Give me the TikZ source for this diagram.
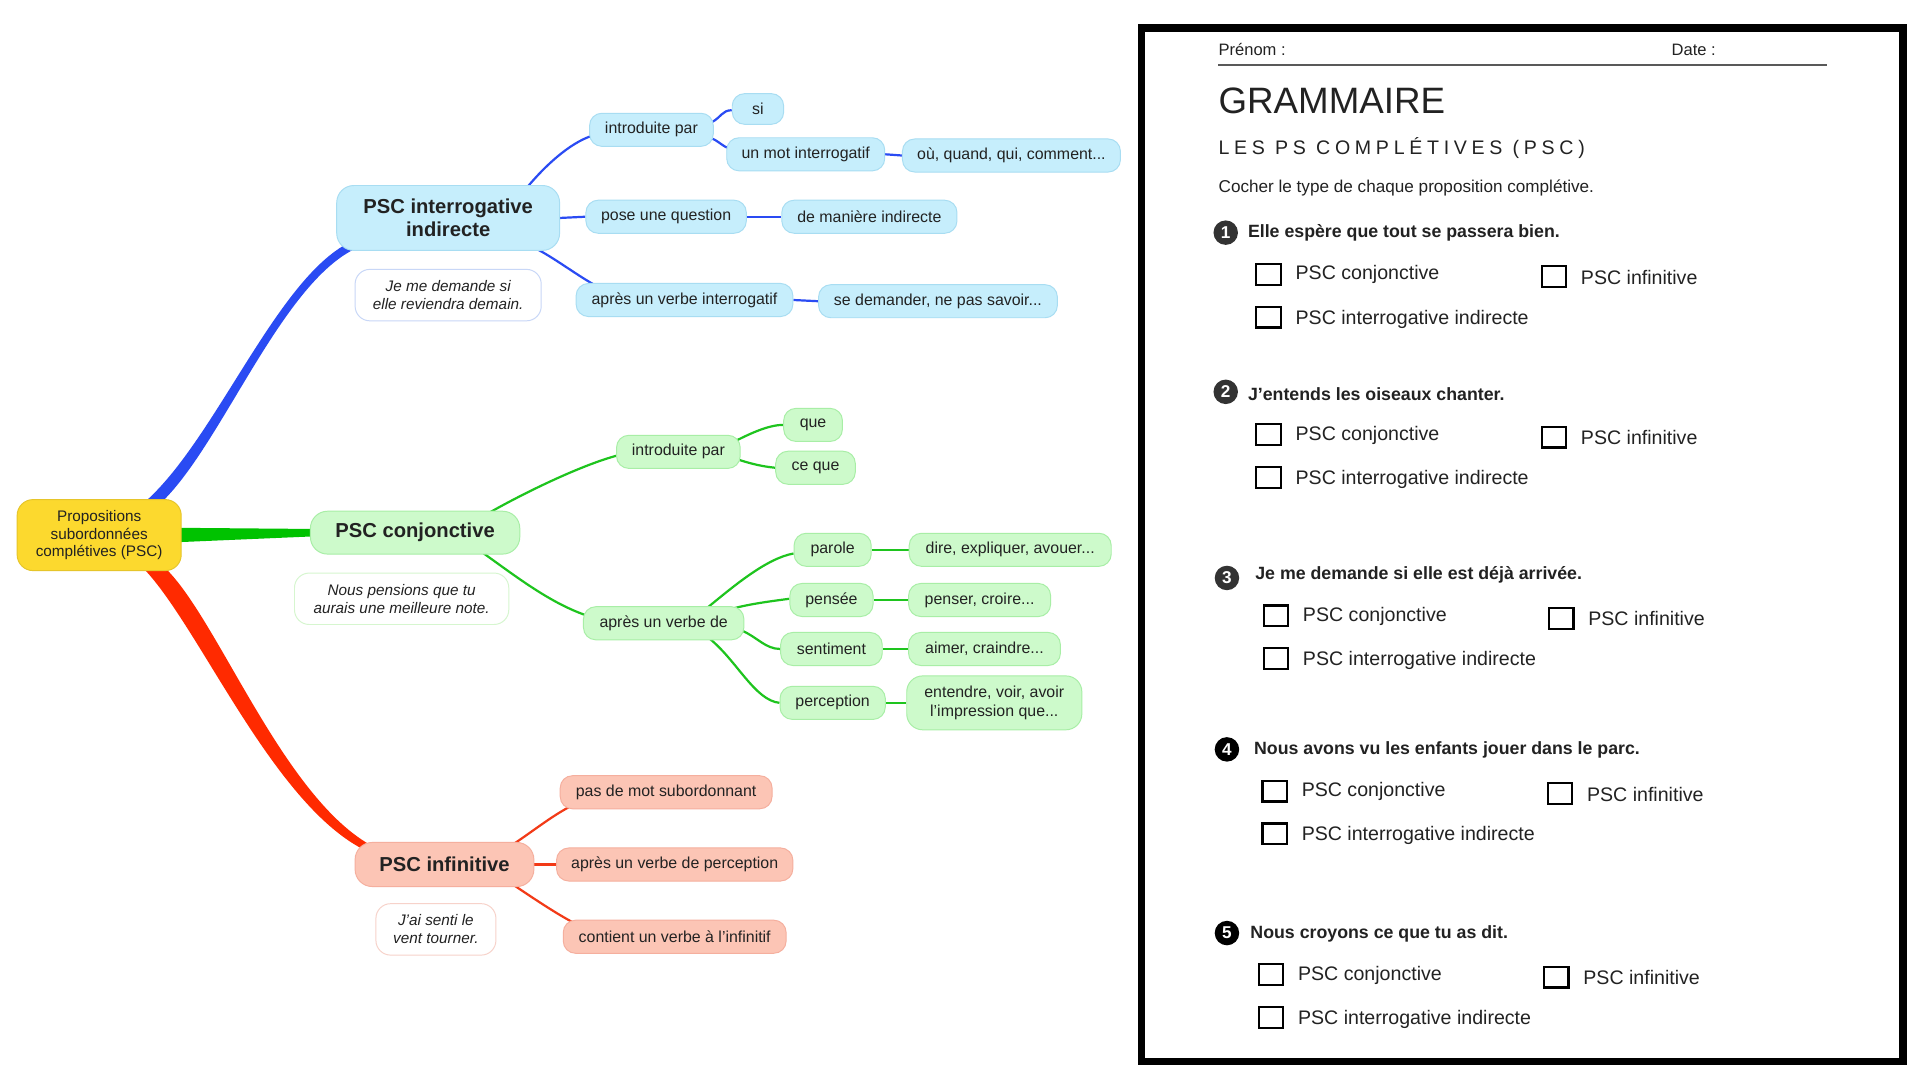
\documentclass[tikz,border=0pt]{standalone}
\usepackage{fontspec}
\setmainfont{Liberation Sans}
\setsansfont{Liberation Sans}
\newfontfamily\spacedfont[LetterSpace=24]{Liberation Sans}
\usetikzlibrary{calc}
\definecolor{txt}{HTML}{222222}
\definecolor{bfill}{HTML}{C6EEFC}
\definecolor{bdraw}{HTML}{A8DDF2}
\definecolor{bline}{HTML}{2A4BF3}
\definecolor{gfill}{HTML}{CDFACB}
\definecolor{gdraw}{HTML}{A8EEA6}
\definecolor{gline}{HTML}{1EC41E}
\definecolor{gthick}{HTML}{00C200}
\definecolor{rfill}{HTML}{FCC5B5}
\definecolor{rdraw}{HTML}{F5AF9E}
\definecolor{rline}{HTML}{F23A17}
\definecolor{rthick}{HTML}{FF2A00}
\definecolor{yfill}{HTML}{FCD92E}
\definecolor{ydraw}{HTML}{E6C52A}
\definecolor{nbd}{HTML}{C8D7F7}
\definecolor{ngd}{HTML}{D6F6CF}
\definecolor{nrd}{HTML}{F7D2CA}
\definecolor{dgray}{HTML}{333333}
\pgfdeclarelayer{bg}
\pgfsetlayers{bg,main}
\tikzset{
  mm/.style={rectangle, rounded corners=10pt, draw, line width=0.8pt, minimum height=27pt,
    inner sep=2pt, font=\fontsize{13}{15}\selectfont, text=txt, align=center},
  bbox/.style={mm, fill=bfill, draw=bdraw},
  gbox/.style={mm, fill=gfill, draw=gdraw},
  rbox/.style={mm, fill=rfill, draw=rdraw},
  mainbox/.style={font=\bfseries\fontsize{16.5}{19}\selectfont, rounded corners=14pt},
  notebox/.style={rectangle, rounded corners=12pt, draw, fill=white, line width=0.8pt,
    minimum height=42pt, inner sep=2pt, text=txt,
    font=\itshape\fontsize{12.5}{14.5}\selectfont, align=center},
  yroot/.style={rectangle, rounded corners=13pt, fill=yfill, draw=ydraw, line width=0.8pt,
    minimum width=134pt, minimum height=58pt, inner sep=2pt, text=txt, align=center,
    font=\fontsize{12.5}{14.5}\selectfont},
  bl/.style={draw=bline, line width=1.8pt},
  gl/.style={draw=gline, line width=1.8pt},
  rl/.style={draw=rline, line width=1.8pt},
  cbox/.style={draw=black, line width=1.8pt, minimum width=20pt, minimum height=17pt, inner sep=0pt},
  cblbl/.style={anchor=west, inner sep=0pt, yshift=-1.5pt, font=\fontsize{16}{18}\selectfont, text=txt},
  qtxt/.style={anchor=west, inner sep=0pt, yshift=-1.5pt, font=\bfseries\fontsize{14.5}{17}\selectfont, text=txt},
  qnum/.style={circle, inner sep=0pt, minimum size=20pt, text=white, font=\bfseries\fontsize{14}{15}\selectfont},
  hdr/.style={anchor=west, inner sep=0pt, yshift=-1.5pt, text=txt}
}
% #1 id, #2 circle colour, #3 cx, #4 cy, #5 tx, #6 ty, #7 number, #8 sentence
\newcommand\psqblock[8]{%
  \node[qnum, fill=#2] (q#1num) at (#3,#4) {#7};
  \node[qtxt] (q#1txt) at (#5,#6) {#8};
  \node[cbox] (q#1b1) at ($(#5,#6)+(17,35)$) {};
  \node[cblbl] (q#1l1) at ($(q#1b1.east)+(11,-1)$) {PSC conjonctive};
  \node[cbox] (q#1b2) at ($(#5,#6)+(250,37)$) {};
  \node[cblbl] (q#1l2) at ($(q#1b2.east)+(11,-1)$) {PSC infinitive};
  \node[cbox] (q#1b3) at ($(#5,#6)+(17,70)$) {};
  \node[cblbl] (q#1l3) at ($(q#1b3.east)+(11,0)$) {PSC interrogative indirecte};
}
\begin{document}
\begin{tikzpicture}[x=1pt,y=-1pt]
\useasboundingbox (0,0) rectangle (1568,882);

% ---------------- mind map nodes ----------------
\node[yroot] (root) at (81,437) {Propositions\\subordonnées\\complétives (PSC)};

\node[bbox, mainbox, minimum width=182pt, minimum height=53pt] (inter) at (366,178) {PSC interrogative\\indirecte};
\node[notebox, draw=nbd, minimum width=152pt] (inote) at (366,241) {Je me demande si\\elle reviendra demain.};
\node[bbox, minimum width=101pt] (intro1) at (532,106) {introduite par};
\node[bbox, minimum width=42pt, minimum height=25pt] (si) at (619,89) {si};
\node[bbox, minimum width=129pt] (mot) at (658,126) {un mot interrogatif};
\node[bbox, minimum width=178pt] (ou) at (826,127) {où, quand, qui, comment...};
\node[bbox, minimum width=131pt] (pose) at (544,177) {pose une question};
\node[bbox, minimum width=143pt] (maniere) at (710,177) {de manière indirecte};
\node[bbox, minimum width=177pt] (apres1) at (559,245) {après un verbe interrogatif};
\node[bbox, minimum width=195pt] (sedem) at (766,246) {se demander, ne pas savoir...};

\node[gbox, mainbox, minimum width=171pt, minimum height=35pt] (conj) at (339,435) {PSC conjonctive};
\node[notebox, draw=ngd, minimum width=175pt] (cnote) at (328,489) {Nous pensions que tu\\aurais une meilleure note.};
\node[gbox, minimum width=101pt] (intro2) at (554,369) {introduite par};
\node[gbox, minimum width=48pt] (que) at (664,347) {que};
\node[gbox, minimum width=65pt] (ceque) at (666,382) {ce que};
\node[gbox, minimum width=131pt] (apres2) at (542,509) {après un verbe de};
\node[gbox, minimum width=63pt] (parole) at (680,449) {parole};
\node[gbox, minimum width=165pt] (dire) at (825,449) {dire, expliquer, avouer...};
\node[gbox, minimum width=68pt] (pensee) at (679,490) {pensée};
\node[gbox, minimum width=116pt] (penser) at (800,490) {penser, croire...};
\node[gbox, minimum width=83pt] (sentiment) at (679,530) {sentiment};
\node[gbox, minimum width=124pt] (aimer) at (804,530) {aimer, craindre...};
\node[gbox, minimum width=86pt] (perception) at (680,574) {perception};
\node[gbox, minimum width=143pt, minimum height=44pt, rounded corners=13pt] (entendre) at (812,574) {entendre, voir, avoir\\l'impression que...};

\node[rbox, mainbox, minimum width=146pt, minimum height=36pt] (inf) at (363,706) {PSC infinitive};
\node[notebox, draw=nrd, minimum width=98pt] (fnote) at (356,759) {J'ai senti le\\vent tourner.};
\node[rbox, minimum width=173pt] (pasde) at (544,647) {pas de mot subordonnant};
\node[rbox, minimum width=193pt] (apres3) at (551,706) {après un verbe de perception};
\node[rbox, minimum width=182pt] (contient) at (551,765) {contient un verbe à l'infinitif};

% ---------------- connectors ----------------
\begin{pgfonlayer}{bg}
\fill[white] (0,0) rectangle (1568,882);
% thick tapered branches
\fill[bline] ($(root.north east)+(-32,4)$) .. controls (175,362) and (225,228) .. ($(inter.south west)+(11,-7)$)
   -- ($(inter.south west)+(16,-2)$) .. controls (229,232) and (180,366) .. ($(root.north east)+(-18,4)$) -- cycle;
\fill[gthick] ($(root.east)+(-8,-6)$) -- ($(conj.west)+(4,-3)$) -- ($(conj.west)+(4,3)$) -- ($(root.east)+(-8,6)$) -- cycle;
\fill[rthick] ($(root.south east)+(-31,-2)$) .. controls (163,512) and (222,655) .. ($(inf.north west)+(7,6)$)
   -- ($(inf.north west)+(12,2)$) .. controls (230,648) and (178,506) .. ($(root.south east)+(-13,-2)$) -- cycle;
% blue
\draw[bl] ($(inter.north east)+(-27,2)$) .. controls +(15,-18) and +(-18,6) .. ($(intro1.west)+(2,5)$);
\draw[bl] ($(intro1.east)+(-2,-6)$) .. controls +(8,-4) and +(-8,0) .. ($(si.west)+(0,1)$);
\draw[bl] ($(intro1.east)+(-2,7)$) .. controls +(6,2) and +(-6,-2) .. ($(mot.west)+(2,-5)$);
\draw[bl] (mot.east) -- (ou.west);
\draw[bl] (inter.east) -- (pose.west);
\draw[bl] (pose.east) -- (maniere.west);
\draw[bl] ($(inter.south east)+(-18,-1)$) .. controls +(15,8) and +(-15,-8) .. ($(apres1.north west)+(18,3)$);
\draw[bl] (apres1.east) -- (sedem.west);
% green
\draw[gl] ($(conj.north east)+(-26,2)$) .. controls +(28,-16) and +(-30,8) .. ($(intro2.west)+(1,3)$);
\draw[gl] ($(intro2.east)+(-4,-9)$) .. controls +(12,-6) and +(-12,0) .. (que.west);
\draw[gl] ($(intro2.east)+(-3,6)$) .. controls +(12,4) and +(-10,-1) .. (ceque.west);
\draw[gl] ($(conj.south east)+(-30,-1)$) .. controls +(28,20) and +(-30,-10) .. ($(apres2.west)+(4,-6)$);
\draw[gl] ($(apres2.north east)+(-30,1)$) .. controls +(22,-18) and +(-22,4) .. ($(parole.west)+(0,3)$);
\draw[gl] ($(apres2.north east)+(-10,2)$) .. controls +(15,-4) and +(-15,2) .. ($(pensee.west)+(0,-1)$);
\draw[gl] ($(apres2.east)+(-2,6)$) .. controls +(12,5) and +(-12,0) .. (sentiment.west);
\draw[gl] ($(apres2.south east)+(-28,-1)$) .. controls +(22,18) and +(-20,-2) .. (perception.west);
\draw[gl] (parole.east) -- (dire.west);
\draw[gl] (pensee.east) -- (penser.west);
\draw[gl] (sentiment.east) -- (aimer.west);
\draw[gl] (perception.east) -- (entendre.west);
% red
\draw[rl] ($(inf.north east)+(-16,1)$) .. controls +(15,-10) and +(-15,8) .. ($(pasde.south west)+(8,-2)$);
\draw[rl] (inf.east) -- (apres3.west);
\draw[rl] ($(inf.south east)+(-16,-1)$) .. controls +(15,10) and +(-15,-8) .. ($(contient.north west)+(8,2)$);
\end{pgfonlayer}

% ---------------- worksheet ----------------
\draw[line width=6pt, black] (932,23) rectangle (1554,867);
\node[hdr, font=\fontsize{13.5}{15}\selectfont] (prenom) at (995,39) {Prénom :};
\node[hdr, font=\fontsize{13.5}{15}\selectfont] (date) at (1365,39) {Date :};
\coordinate (lineL) at (995,53);
\coordinate (lineR) at (1492,53);
\draw[line width=1pt, color=black!65] (lineL) -- (lineR);
\node[hdr, font=\fontsize{30}{34}\selectfont] (gram) at (995,81) {GRAMMAIRE};
\node[hdr, font=\spacedfont\fontsize{16}{18}\selectfont] (les) at (995,119) {LES PS COMPLÉTIVES (PSC)};
\node[hdr, font=\fontsize{14}{16}\selectfont] (cocher) at (995,152) {Cocher le type de chaque proposition complétive.};

\psqblock{1}{dgray}{1001}{190}{1019}{189}{1}{Elle espère que tout se passera bien.}
\psqblock{2}{dgray}{1001}{320}{1019}{320}{2}{J’entends les oiseaux chanter.}
\psqblock{3}{dgray}{1002}{472}{1025}{468}{3}{Je me demande si elle est déjà arrivée.}
\psqblock{4}{black}{1002}{612}{1024}{611}{4}{Nous avons vu les enfants jouer dans le parc.}
\psqblock{5}{black}{1002}{762}{1021}{761}{5}{Nous croyons ce que tu as dit.}
\end{tikzpicture}
\end{document}
